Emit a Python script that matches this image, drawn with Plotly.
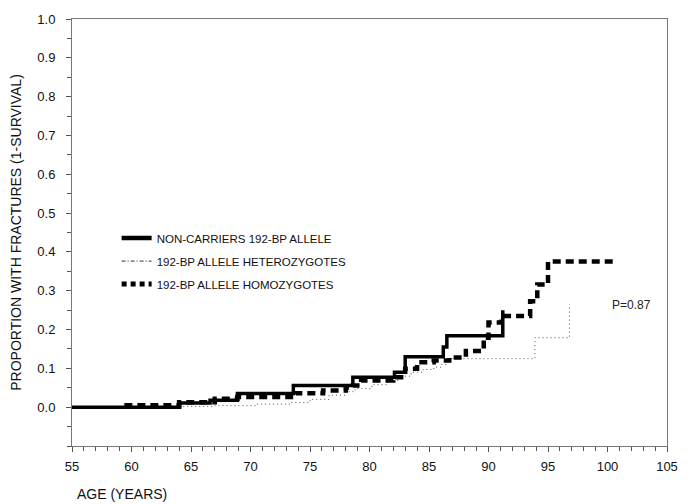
import plotly.graph_objects as go

# Non-carriers of the 192-bp allele (solid)
nc_age = [55, 64.05, 66.6, 68.9, 73.6, 78.6, 82.1, 83.0, 86.2, 86.5, 91.2]
nc_val = [0, 0.011, 0.018, 0.035, 0.056, 0.077, 0.09, 0.13, 0.155, 0.184, 0.25]

# 192-bp allele heterozygotes (dotted)
het_age = [55, 64.1, 67.0, 70.5, 73.3, 75.0, 76.6, 78.0, 78.8, 80.2, 81.5, 82.5,
           83.5, 84.5, 85.4, 86.0, 86.5, 93.9, 96.8]
het_val = [0, 0.002, 0.004, 0.008, 0.012, 0.02, 0.031, 0.04, 0.048, 0.058, 0.069, 0.08,
           0.09, 0.097, 0.103, 0.11, 0.125, 0.179, 0.265]

# 192-bp allele homozygotes (dashed)
hom_age = [59.4, 64.0, 67.0, 68.9, 73.8, 76.1, 78.0, 78.6, 79.3, 82.0, 83.0, 84.0,
           85.4, 86.7, 88.1, 89.6, 90.0, 91.1, 93.5, 94.1, 95.0, 100.5]
hom_val = [0.005, 0.013, 0.022, 0.026, 0.036, 0.043, 0.05, 0.056, 0.069, 0.077, 0.099, 0.116,
           0.12, 0.128, 0.145, 0.179, 0.218, 0.235, 0.273, 0.316, 0.375, 0.375]

names = ["NON-CARRIERS 192-BP ALLELE", "192-BP ALLELE HETEROZYGOTES", "192-BP ALLELE HOMOZYGOTES"]
x_ticks = list(range(55, 106, 5))
y_ticks = [round(i * 0.1, 1) for i in range(0, 11)]
p_text = "P=0.87"

fig = go.Figure()
fig.add_trace(go.Scatter(x=het_age, y=het_val, mode="lines", line_shape="hv",
                         line=dict(color="#555555", width=1, dash="1px,3px"), showlegend=False))
fig.add_trace(go.Scatter(x=hom_age, y=hom_val, mode="lines", line_shape="hv",
                         line=dict(color="black", width=4.5, dash="8px,5px"), showlegend=False))
fig.add_trace(go.Scatter(x=nc_age, y=nc_val, mode="lines", line_shape="hv",
                         line=dict(color="black", width=3.5), showlegend=False))

# legend entries
fig.add_trace(go.Scatter(x=[None], y=[None], mode="lines", name=names[0], legendgroup="a",
                         line=dict(color="black", width=4.5)))
fig.add_trace(go.Scatter(x=[None], y=[None], mode="lines", name=names[1], legendgroup="b",
                         line=dict(color="#333333", width=1, dash="4px,2px,1px,2px")))
fig.add_trace(go.Scatter(x=[None], y=[None], mode="lines", name=names[2], legendgroup="c",
                         line=dict(color="black", width=5, dash="5px,4px")))

fig.add_annotation(x=100.2, y=0.263, text=p_text, showarrow=False, xanchor="left", yanchor="middle",
                   font=dict(size=12, color="#222"))
fig.add_annotation(xref="paper", yref="paper", x=0.005, y=-0.113, text="AGE (YEARS)", showarrow=False,
                   xanchor="left", yanchor="middle", font=dict(size=14, color="#111"))

axis_common = dict(showline=True, linecolor="#777777", linewidth=1, mirror=True, showgrid=False,
                   zeroline=False, ticks="outside", tickcolor="#555555", ticklen=5,
                   tickfont=dict(size=13, color="#111"))
fig.update_xaxes(range=[55, 105], tickvals=x_ticks, ticktext=[str(v) for v in x_ticks],
                 ticklabelstandoff=3,
                 minor=dict(dtick=1, ticks="outside", ticklen=4, tickcolor="#555555"), **axis_common)
fig.update_yaxes(range=[-0.1, 1.0], tickvals=y_ticks, ticktext=["%.1f" % v for v in y_ticks],
                 ticklabelstandoff=8,
                 minor=dict(dtick=0.05, tick0=0, ticks="outside", ticklen=4, tickcolor="#555555"),
                 title=dict(text="PROPORTION WITH FRACTURES (1-SURVIVAL)", font=dict(size=14, color="#111"),
                            standoff=12),
                 **axis_common)

fig.update_layout(width=690, height=504, margin=dict(l=72, r=12, t=14, b=58),
                  plot_bgcolor="white", paper_bgcolor="white",
                  font=dict(family="Liberation Sans, Arial, sans-serif", color="#111"),
                  legend=dict(x=0.075, y=0.433, xanchor="left", yanchor="middle",
                              traceorder="grouped", tracegroupgap=4,
                              bgcolor="rgba(0,0,0,0)", font=dict(size=11.5, color="#111")))

fig.write_html("out.html")
